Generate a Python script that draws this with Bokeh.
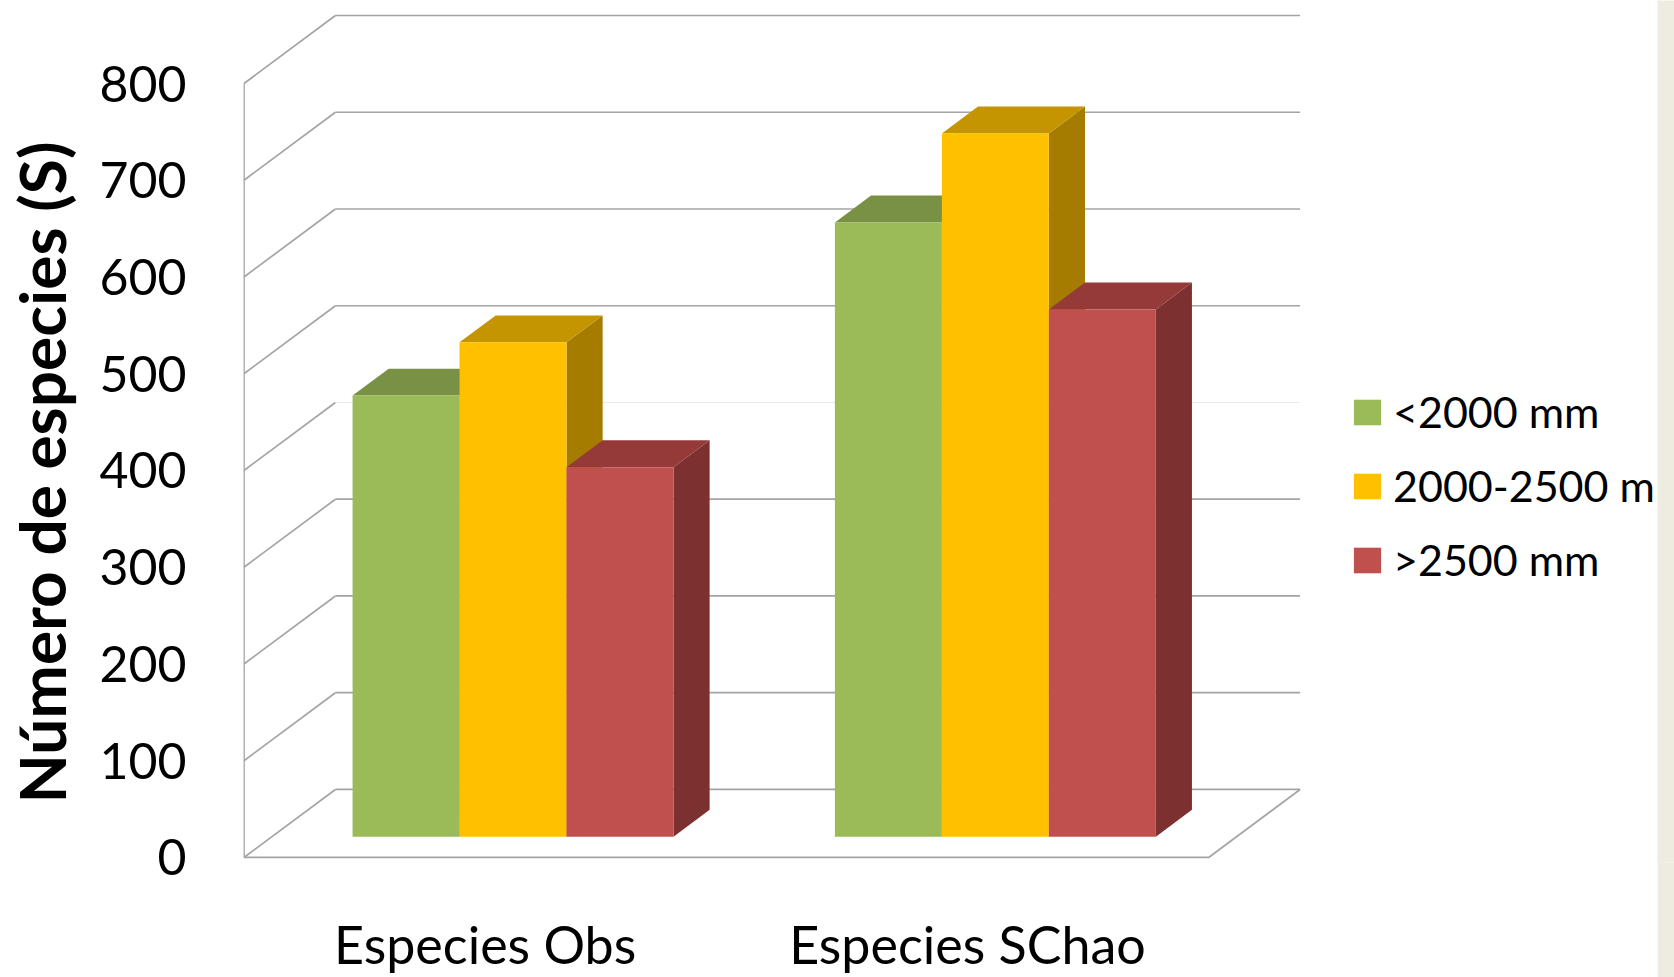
from bokeh.embed import file_html
from bokeh.layouts import row
from bokeh.models import FixedTicker, Label, Legend, LegendItem, Range1d
from bokeh.plotting import figure
from bokeh.resources import INLINE
import math

# Chart data
categories = ["Especies Obs", "Especies SChao"]
series_names = ["<2000 mm", "2000-2500 m", ">2500 mm"]
below_2000 = [456, 635]
from_2000_to_2500 = [511, 727]
above_2500 = [382, 545]
value_ticks = [0, 100, 200, 300, 400, 500, 600, 700, 800]

series_values = [below_2000, from_2000_to_2500, above_2500]
front_colors = ["#9BBB59", "#FFC000", "#C0504D"]
top_colors = ["#799144", "#C49500", "#953A38"]
side_colors = ["#66792F", "#A67C00", "#7C3130"]

# Oblique projection: depth 0 is the front of the box, depth 1 the back wall
DEPTH_X = 0.1896
DEPTH_Y = 70.3
BAR_WIDTH = 0.2218
BAR_FRONT = 0.305
BAR_BACK = 0.70
FLOOR_END = 2.0
GRID = "#A4A4A4"
FONT = "Lato"
PLOT_WIDTH = 1657
PLOT_HEIGHT = 977
BOTTOM_BORDER = 115


def project(x, v, depth):
    return x + depth * DEPTH_X, v + depth * DEPTH_Y


p = figure(
    width=PLOT_WIDTH, height=PLOT_HEIGHT, output_backend="svg", toolbar_location=None,
    x_range=Range1d(-0.001, 2.9306), y_range=Range1d(-5.2, 885.8),
    min_border_left=243, min_border_right=0, min_border_top=0, min_border_bottom=BOTTOM_BORDER,
    outline_line_color=None, background_fill_color="white", border_fill_color="white",
)
p.grid.visible = False

# Walls and floor of the box
for v in value_ticks:
    x0, y0 = project(0, v, 0)
    x1, y1 = project(0, v, 1)
    x2, y2 = project(FLOOR_END, v, 1)
    p.line([x0, x1], [y0, y1], line_color=GRID, line_width=1.7)
    p.line([x1, x2], [y1, y2], line_color="#E9E9E9" if v == 400 else GRID, line_width=1.7 if v != 400 else 1)
p.line([0, 0], [value_ticks[0], value_ticks[-1]], line_color=GRID, line_width=1.7)
fx, fy = project(FLOOR_END, 0, 1)
p.line([0, FLOOR_END, fx], [0, 0, fy], line_color=GRID, line_width=1.7)

# Bars: side and top faces first, the front face over them
legend_items = []
for s, values in enumerate(series_values):
    side_xs, side_ys, top_xs, top_ys = [], [], [], []
    lefts, rights, bottoms, tops = [], [], [], []
    for g, v in enumerate(values):
        xl = g + 0.5 + (s - 1.5) * BAR_WIDTH
        xr = xl + BAR_WIDTH
        fl, ft = project(xl, v, BAR_FRONT)
        fr, fb = project(xr, 0, BAR_FRONT)
        bl, bt = project(xl, v, BAR_BACK)
        br, bb = project(xr, 0, BAR_BACK)
        side_xs.append([fr, br, br, fr])
        side_ys.append([fb, bb, bt, ft])
        top_xs.append([fl, bl, br, fr])
        top_ys.append([ft, bt, bt, ft])
        lefts.append(fl)
        rights.append(fr)
        bottoms.append(fb)
        tops.append(ft)
    p.patches(side_xs, side_ys, fill_color=side_colors[s], line_color=None)
    p.patches(top_xs, top_ys, fill_color=top_colors[s], line_color=None)
    front = p.quad(left=lefts, right=rights, bottom=bottoms, top=tops,
                   fill_color=front_colors[s], line_color=None)
    legend_items.append(LegendItem(label=series_names[s], renderers=[front]))

# Axes
p.yaxis.ticker = FixedTicker(ticks=value_ticks)
p.yaxis.axis_line_color = None
p.yaxis.major_tick_line_color = None
p.yaxis.major_tick_out = 0
p.yaxis.minor_tick_line_color = None
p.yaxis.minor_tick_out = 0
p.yaxis.major_label_standoff = 57
p.yaxis.major_label_text_font = FONT
p.yaxis.major_label_text_font_size = "50px"
p.yaxis.major_label_text_color = "black"

p.xaxis.ticker = FixedTicker(ticks=[i + 0.5 for i in range(len(categories))])
p.xaxis.major_label_overrides = {i + 0.5: c for i, c in enumerate(categories)}
p.xaxis.axis_line_color = None
p.xaxis.major_tick_line_color = None
p.xaxis.major_tick_out = 0
p.xaxis.minor_tick_line_color = None
p.xaxis.minor_tick_out = 0
p.xaxis.major_label_standoff = 50
p.xaxis.major_label_text_font = FONT
p.xaxis.major_label_text_font_size = "52px"
p.xaxis.major_label_text_color = "black"

# Value-axis title, placed in the left border beside the scale
p.add_layout(Label(
    x=41, y=472, x_units="canvas", y_units="canvas", angle=math.pi / 2,
    text="Número de especies (S)", text_align="center", text_baseline="middle",
    text_font=FONT, text_font_size="64px", text_font_style="bold", text_color="black",
), "left")

# Legend
legend = Legend(
    items=legend_items, location=(1107, 277), padding=0, margin=0, spacing=23,
    glyph_width=34, glyph_height=32, label_standoff=9,
    label_text_font=FONT, label_text_font_size="43px", label_text_color="black",
    border_line_color=None, background_fill_alpha=0,
)
p.add_layout(legend, "center")

# Slide background showing along the right edge
edge = figure(
    width=1674 - PLOT_WIDTH, height=PLOT_HEIGHT, output_backend="svg", toolbar_location=None,
    x_axis_location=None, y_axis_location=None, min_border=0,
    outline_line_color=None, background_fill_color="#EEECE1", border_fill_color="#EEECE1",
)
edge.grid.visible = False

open("out.html", "w").write(file_html(row(p, edge, spacing=0), INLINE))
